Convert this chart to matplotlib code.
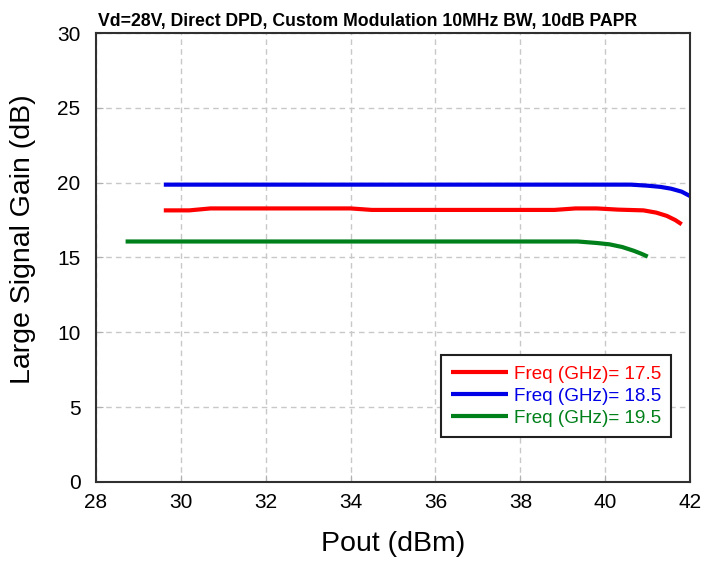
import matplotlib
matplotlib.use('Agg')
import matplotlib.pyplot as plt

plt.rcParams['font.family'] = ['Liberation Sans', 'DejaVu Sans']

# data
pout_175 = [29.6, 30.2, 30.7, 32.0, 34.0, 34.5, 36.0, 38.8, 39.3, 39.8, 40.3, 40.9, 41.2, 41.45, 41.65, 41.8]
gain_175 = [18.15, 18.15, 18.28, 18.28, 18.28, 18.18, 18.18, 18.18, 18.28, 18.28, 18.2, 18.15, 18.0, 17.78, 17.5, 17.22]

pout_185 = [29.6, 32.0, 34.0, 36.0, 38.0, 40.0, 40.6, 41.0, 41.3, 41.55, 41.8, 42.0]
gain_185 = [19.87, 19.87, 19.87, 19.87, 19.87, 19.87, 19.87, 19.8, 19.72, 19.6, 19.4, 19.1]

pout_195 = [28.7, 30.0, 32.0, 34.0, 36.0, 38.0, 39.35, 39.8, 40.1, 40.4, 40.67, 40.85, 41.0]
gain_195 = [16.07, 16.07, 16.07, 16.07, 16.07, 16.07, 16.07, 15.97, 15.88, 15.7, 15.45, 15.25, 15.06]

series = [
    (pout_175, gain_175, 'Freq (GHz)= 17.5', '#ff0000'),
    (pout_185, gain_185, 'Freq (GHz)= 18.5', '#0000e6'),
    (pout_195, gain_195, 'Freq (GHz)= 19.5', '#00801a'),
]

fig = plt.figure(figsize=(7.05, 5.61), dpi=100)
ax = fig.add_axes([0.136, 0.141, 0.843, 0.8])

for x, y, lab, col in series:
    ax.plot(x, y, color=col, lw=3, label=lab, solid_capstyle='butt')

ax.set_xlim(28, 42)
ax.set_ylim(0, 30)
ax.set_xticks(range(28, 43, 2))
ax.set_yticks(range(0, 31, 5))
ax.grid(True, color='#c8c8c8', linestyle=(0, (4, 3)), lw=1)
ax.tick_params(direction='in', length=5, color='#b0b0b0', labelsize=15)
ax.tick_params(axis='y', pad=11)
ax.tick_params(axis='x', pad=8)
for sp in ax.spines.values():
    sp.set_color('#303030')
    sp.set_linewidth(1.5)

ax.set_xlabel('Pout (dBm)', fontsize=20.5, labelpad=14)
ax.set_ylabel('Large Signal Gain (dB)', fontsize=20.5)
ax.yaxis.set_label_coords(-0.1, 0.541)
fig.text(0.522, 0.962, 'Vd=28V, Direct DPD, Custom Modulation 10MHz BW, 10dB PAPR',
         ha='center', va='center', fontsize=12.7, fontweight='bold')

leg = ax.legend(loc='lower right', bbox_to_anchor=(0.968, 0.1), fontsize=13.6,
                handlelength=3.0, handletextpad=0.3, labelspacing=0.25,
                fancybox=False, framealpha=1, borderpad=0.55, borderaxespad=0)
leg.get_frame().set_edgecolor('#202020')
leg.get_frame().set_linewidth(1.5)
for txt, (_, _, _, col) in zip(leg.get_texts(), series):
    txt.set_color(col)

fig.savefig('out.png', dpi=100)
